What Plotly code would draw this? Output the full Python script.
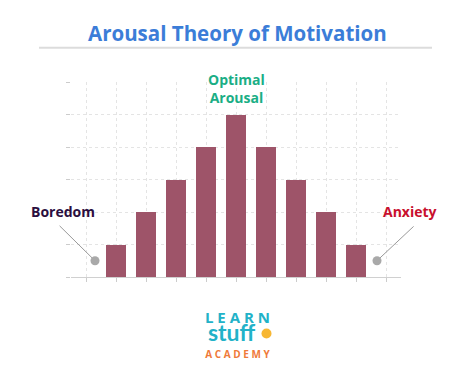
import plotly.graph_objects as go

# ---- data ----
levels = list(range(0, 11))            # arousal level ticks
bar_levels = [1, 2, 3, 4, 5, 6, 7, 8, 9]
performance = [1, 2, 3, 4, 5, 4, 3, 2, 1]
end_levels = [0.3, 9.7]                # boredom / anxiety markers
end_values = [0.5, 0.5]
y_ticks = [0, 1, 2, 3, 4, 5, 6]

W, H = 474, 387
L, R, T, B = 71, 73, 82, 110
XMIN, XMAX = -0.5, 10.5
YMIN, YMAX = 0, 6

def px_x(px):
    return (px - L) / (W - L - R)

def px_y(py):
    return (H - B - py) / (H - T - B)

BAR = "#9e5469"
GRID = "#e4e4e4"
TEAL = "#22b2c8"
ORANGE = "#ef7a3a"

fig = go.Figure()
fig.add_trace(go.Bar(x=bar_levels, y=performance, width=0.64,
                     marker=dict(color=BAR, line=dict(width=0)),
                     hoverinfo="skip"))
fig.add_trace(go.Scatter(x=end_levels, y=end_values, mode="markers",
                         marker=dict(color="#a9a9a9", size=9),
                         cliponaxis=False, hoverinfo="skip"))

ann = []
# connector lines (empty-text arrows)
for (tx, ty, px, py) in [(-0.93, 1.62, end_levels[0], end_values[0]),
                          (10.97, 1.60, end_levels[1], end_values[1])]:
    ann.append(dict(x=px, y=py, ax=tx, ay=ty, axref="x", ayref="y",
                    xref="x", yref="y", text="", showarrow=True,
                    arrowhead=0, arrowwidth=1, arrowcolor="#9a9a9a",
                    standoff=4))

def label(xpx, ypx, text, size, color, family="Open Sans"):
    ann.append(dict(x=px_x(xpx), y=px_y(ypx), xref="paper", yref="paper",
                    xanchor="center", yanchor="middle", text=text,
                    showarrow=False, font=dict(family=family, size=size, color=color)))

label(63, 211, "<b>Boredom</b>", 14, "#2b0e3e")
label(410, 211, "<b>Anxiety</b>", 14, "#c8102e")
label(236, 88, "<b>Optimal<br>Arousal</b>", 14, "#1aae85")
# title
label(237, 33, "<b>Arousal Theory of Motivation</b>", 20.5, "#3b7dd8")
# logo (one stacked text block)
logo = (f"<span style='font-size:15px;color:{TEAL}'><b>L E A R N</b></span><br>"
        f"<span style='font-family:Lato;font-size:23px;color:{TEAL}'><b>stuff</b>&nbsp;&nbsp;</span><br>"
        f"<span style='font-size:10px;color:{ORANGE}'><b>A C A D E M Y</b></span>")
label(237, 334, logo, 13.5, TEAL)

shapes = [
    dict(type="line", xref="paper", yref="paper",
         x0=px_x(39), x1=px_x(432), y0=px_y(47.7), y1=px_y(47.7),
         line=dict(color="#dcdcdc", width=2)),
    dict(type="circle", xref="paper", yref="paper",
         x0=px_x(261.5), x1=px_x(271.5), y0=px_y(328.5), y1=px_y(338.5),
         fillcolor="#f7b733", line=dict(width=0)),
]

fig.update_layout(
    width=W, height=H, autosize=False,
    margin=dict(l=L, r=R, t=T, b=B),
    paper_bgcolor="white", plot_bgcolor="white",
    showlegend=False, annotations=ann, shapes=shapes,
    xaxis=dict(range=[XMIN, XMAX], tickvals=levels, showticklabels=False,
               ticks="outside", ticklen=4, tickcolor="#cccccc",
               showgrid=True, gridcolor=GRID, griddash="dot",
               showline=True, linecolor="#d0d0d0", zeroline=False),
    yaxis=dict(range=[YMIN, YMAX], tickvals=y_ticks, showticklabels=False,
               ticks="outside", ticklen=4, tickcolor="#cccccc",
               showgrid=True, gridcolor=GRID, griddash="dot",
               showline=False, zeroline=False),
    bargap=0,
)

fig.write_html("out.html")
